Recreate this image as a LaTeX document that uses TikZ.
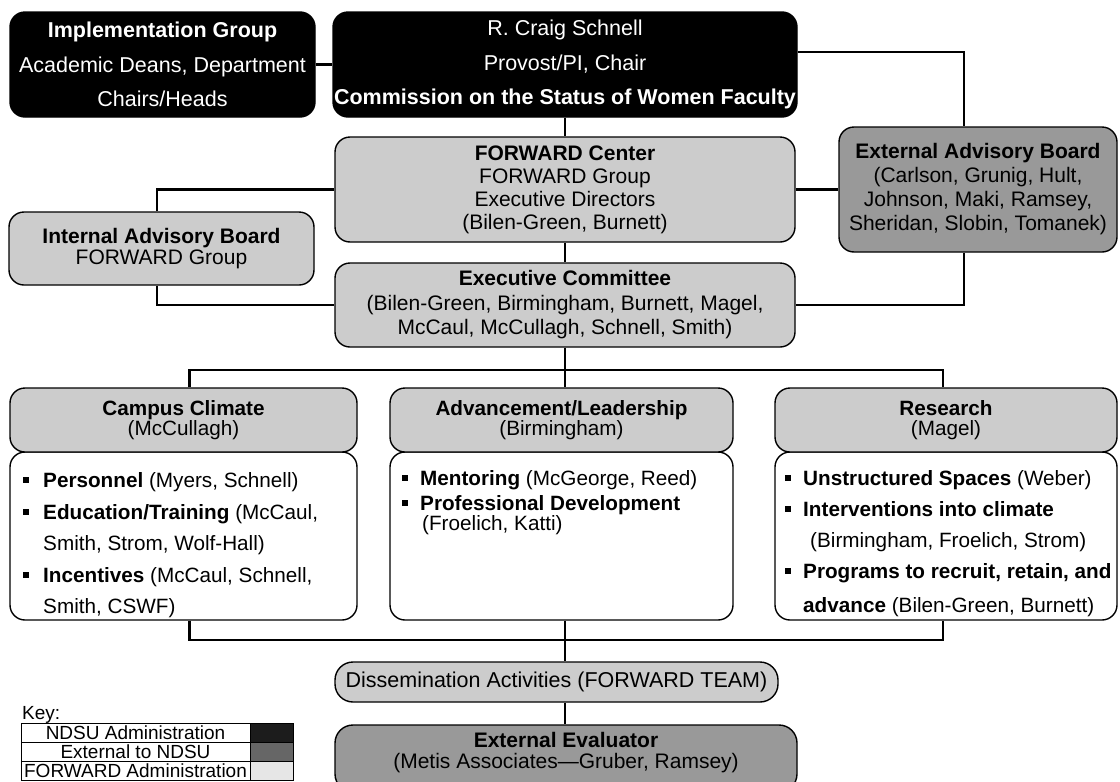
\documentclass[tikz,border=0pt]{standalone}
\usepackage{fontspec}
\setmainfont{Liberation Sans}
\definecolor{boxgray}{RGB}{204,204,204}
\definecolor{extgray}{RGB}{153,153,153}
\definecolor{keyblack}{RGB}{28,28,28}
\definecolor{keyext}{RGB}{102,102,102}
\definecolor{keyfwd}{RGB}{230,230,230}
\newcommand\mybullet{\raisebox{4pt}{\rule{6pt}{6pt}}}
\tikzset{
  conn/.style={line width=2.6pt},
  box/.style={draw, line width=1.4pt, rounded corners=15pt, inner sep=0pt, align=center},
  blackbox/.style={box, fill=black, text=white, font=\fontsize{21.5}{34.5}\selectfont},
  lightbox/.style={box, fill=boxgray},
  darkbox/.style={box, fill=extgray},
  whitebox/.style={box, fill=white},
  midfont/.style={font=\fontsize{21}{23}\selectfont},
  headfont/.style={font=\fontsize{20.7}{20.5}\selectfont},
  item/.style={anchor=base west, inner sep=0pt, font=\fontsize{20.7}{24}\selectfont},
  keycell/.style={draw, line width=1pt, inner sep=0pt, minimum height=19, font=\fontsize{19}{19}\selectfont},
}
\begin{document}
\begin{tikzpicture}[x=1pt,y=-1pt]
\clip (0,0) rectangle (1120,782);
\fill[white] (0,0) rectangle (1120,782);

% top row
\node[blackbox, minimum width=305, minimum height=105] (impl) at (162.5,64.5)
  {\textbf{Implementation Group}\\Academic Deans, Department\\Chairs/Heads};
\node[blackbox, minimum width=464, minimum height=105] (chair) at (565,64.5)
  {R. Craig Schnell\\Provost/PI, Chair\\\textbf{Commission on the Status of Women Faculty}};

% middle
\node[lightbox, midfont, minimum width=460, minimum height=105] (fwd) at (565,189.5)
  {\textbf{FORWARD Center}\\FORWARD Group\\Executive Directors\\(Bilen-Green, Burnett)};
\node[darkbox, font=\fontsize{21}{24}\selectfont, minimum width=278, minimum height=125] (eab) at (978,189.5)
  {\textbf{External Advisory Board}\\(Carlson, Grunig, Hult,\\Johnson, Maki, Ramsey,\\Sheridan, Slobin, Tomanek)};
\node[lightbox, font=\fontsize{21}{21}\selectfont, minimum width=305, minimum height=73] (iab) at (161.5,248.5)
  {\textbf{Internal Advisory Board}\\FORWARD Group};
\node[lightbox, font=\fontsize{21}{24.5}\selectfont, minimum width=460, minimum height=84] (exec) at (565,305)
  {\textbf{Executive Committee}\\(Bilen-Green, Birmingham, Burnett, Magel,\\McCaul, McCullagh, Schnell, Smith)};

% bodies
\node[whitebox, minimum width=347, minimum height=168] (ccb) at (183.5,536) {};
\node[whitebox, minimum width=343, minimum height=168] (advb) at (561.5,536) {};
\node[whitebox, minimum width=342, minimum height=168] (resb) at (946,536) {};
% headers
\node[lightbox, headfont, minimum width=347, minimum height=64] (cch) at (183.5,420)
  {\textbf{Campus Climate}\\(McCullagh)};
\node[lightbox, headfont, minimum width=343, minimum height=64] (advh) at (561.5,420)
  {\textbf{Advancement/Leadership}\\(Birmingham)};
\node[lightbox, headfont, minimum width=342, minimum height=64] (resh) at (946,420)
  {\textbf{Research}\\(Magel)};

% bullet items
\node[item] (cc1) at (43,487) {\llap{\mybullet\hspace{14pt}}\textbf{Personnel} (Myers, Schnell)};
\node[item] (cc2) at (43,519) {\llap{\mybullet\hspace{14pt}}\textbf{Education/Training} (McCaul,};
\node[item] (cc3) at (43,550) {Smith, Strom, Wolf-Hall)};
\node[item] (cc4) at (43,582) {\llap{\mybullet\hspace{14pt}}\textbf{Incentives} (McCaul, Schnell,};
\node[item] (cc5) at (43,613) {Smith, CSWF)};

\node[item] (ad1) at (420,485) {\llap{\mybullet\hspace{12pt}}\textbf{Mentoring} (McGeorge, Reed)};
\node[item] (ad2) at (420,510) {\llap{\mybullet\hspace{12pt}}\textbf{Professional Development}};
\node[item] (ad3) at (422,530) {(Froelich, Katti)};

\node[item] (rs1) at (803,485) {\llap{\mybullet\hspace{12pt}}\textbf{Unstructured Spaces} (Weber)};
\node[item] (rs2) at (803,516) {\llap{\mybullet\hspace{12pt}}\textbf{Interventions into climate}};
\node[item] (rs3) at (810,547) {(Birmingham, Froelich, Strom)};
\node[item] (rs4) at (803,578) {\llap{\mybullet\hspace{12pt}}\textbf{Programs to recruit, retain, and}};
\node[item] (rs5) at (803,612) {\textbf{advance} (Bilen-Green, Burnett)};

% bottom
\node[lightbox, rounded corners=18pt, font=\fontsize{21.5}{24}\selectfont, minimum width=443, minimum height=40] (diss) at (556.5,682)
  {Dissemination Activities (FORWARD TEAM)};
\node[darkbox, rounded corners=18pt, minimum width=462, minimum height=67] (ee) at (566,758.5) {};
\node[inner sep=0pt, align=center, font=\fontsize{21}{21}\selectfont] (eet) at (566,752.5)
  {\textbf{External Evaluator}\\(Metis Associates---Gruber, Ramsey)};

% key
\node[anchor=base west, inner sep=0pt, font=\fontsize{19}{19}\selectfont] (keyt) at (22,719.5) {Key:};
\node[keycell, minimum width=229] (k1) at (135.5,732.5) {NDSU Administration};
\node[keycell, minimum width=43, fill=keyblack] (s1) at (271.5,732.5) {};
\node[keycell, minimum width=229] (k2) at (135.5,751.5) {External to NDSU};
\node[keycell, minimum width=43, fill=keyext] (s2) at (271.5,751.5) {};
\node[keycell, minimum width=229] (k3) at (135.5,770.5) {FORWARD Administration};
\node[keycell, minimum width=43, fill=keyfwd] (s3) at (271.5,770.5) {};

% connectors
\draw[conn] (impl.east) -- (chair.west);
\draw[conn] ([yshift=12.5pt]chair.east) -| ([xshift=-14pt]eab.north);
\draw[conn] (chair.south) -- (fwd.north);
\draw[conn] (fwd.east) -- (eab.west);
\draw[conn] ([xshift=-4.5pt]iab.north) |- (fwd.west);
\draw[conn] ([xshift=-4.5pt]iab.south) |- (exec.west);
\draw[conn] ([xshift=-14pt]eab.south) |- (exec.east);
\draw[conn] (fwd.south) -- (exec.north);
\coordinate (busA) at (565,370);
\draw[conn] (exec.south) -- (busA);
\draw[conn] ([xshift=6pt]cch.north) |- (busA) -| ([xshift=-3pt]resh.north);
\draw[conn] (busA) -- (busA |- advh.north);
\coordinate (busB) at (565,640);
\draw[conn] ([xshift=6pt]ccb.south) |- (busB) -| ([xshift=-3pt]resb.south);
\draw[conn] (busB |- advb.south) -- (busB |- diss.north);
\draw[conn] (busB |- diss.south) -- (busB |- ee.north);
\end{tikzpicture}
\end{document}
